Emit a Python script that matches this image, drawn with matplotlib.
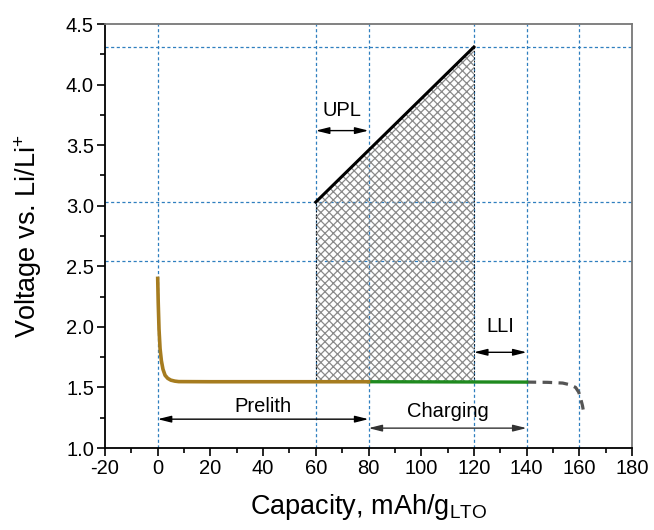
import matplotlib.pyplot as plt
import numpy as np

plt.rcParams['font.family'] = ['Liberation Sans', 'DejaVu Sans']
plt.rcParams['hatch.linewidth'] = 0.9
plt.rcParams['axes.unicode_minus'] = False
plt.rcParams['mathtext.fontset'] = 'custom'
plt.rcParams['mathtext.rm'] = 'Liberation Sans'
plt.rcParams['mathtext.it'] = 'Liberation Sans'

# prelithiation curve (0 - 80 mAh/g)
prelith_x = [0, 0.2, 0.5, 0.9, 1.4, 2.0, 2.8, 3.8, 5.0, 6.5, 8.0, 20, 40, 60, 80]
prelith_y = [2.40, 2.20, 1.98, 1.82, 1.72, 1.65, 1.60, 1.575, 1.56, 1.552, 1.548, 1.547, 1.547, 1.547, 1.547]

# charging curve (80 - 140 mAh/g)
charge_x = [80, 100, 120, 140]
charge_y = [1.547, 1.546, 1.545, 1.544]

# tail after charging (dashed)
tail_x = [140, 148, 153.7, 156.5, 158.6, 159.8, 160.5, 161.2, 161.7]
tail_y = [1.544, 1.542, 1.536, 1.522, 1.50, 1.46, 1.41, 1.35, 1.29]

# upper potential line
upl_x = [60, 120]
upl_y = [3.03, 4.31]
base_v = 1.547

# reference lines
vlines = [0, 60, 80, 120, 140, 160]
hlines = [2.54, 3.03, 4.31]

fig = plt.figure(figsize=(6.54, 5.30), dpi=100)
ax = fig.add_axes([105/654, 1 - 448/530, (632 - 105)/654, (448 - 24)/530])

grid_col = '#2f7fbf'
for xv in vlines:
  ax.axvline(xv, color=grid_col, lw=0.9, ls=(0, (2.5, 2)), zorder=1)
for yv in hlines:
  ax.axhline(yv, color=grid_col, lw=0.9, ls=(0, (2.5, 2)), zorder=1)

# hatched area under the UPL line
hx = np.array(upl_x)
ax.fill_between(hx, [base_v, base_v], upl_y, facecolor='none', edgecolor='#8a8a8a',
                hatch='xxxx', linewidth=0, zorder=2)
ax.plot([60, 60], [base_v, upl_y[0]], color='black', lw=0.6, ls=(0, (2, 2)), zorder=2)
ax.plot([120, 120], [base_v, upl_y[1]], color='black', lw=0.6, ls=(0, (2, 2)), zorder=2)

ax.plot(upl_x, upl_y, color='black', lw=2.2, zorder=4)
ax.plot(tail_x, tail_y, color='#555555', lw=2.3, ls=(0, (3, 2)), zorder=4)
ax.plot(charge_x, charge_y, color='#1f8a1f', lw=2.4, zorder=5)
ax.plot(prelith_x, prelith_y, color='#a67c1f', lw=2.6, zorder=6)

# arrows
def double_arrow(x0, x1, y, color='black'):
  ax.annotate('', xy=(x1, y), xytext=(x0, y),
              arrowprops=dict(arrowstyle='<|-|>,head_length=0.8,head_width=0.2',
                              color=color, lw=1.0, shrinkA=0, shrinkB=0), zorder=7)

double_arrow(0, 80, 1.238)
double_arrow(80, 140, 1.164, color='#333333')
double_arrow(120, 140, 1.79)
double_arrow(60, 80, 3.62)

fs = 14.5
ax.text(40, 1.34, 'Prelith', ha='center', va='center', fontsize=fs)
ax.text(110, 1.30, 'Charging', ha='center', va='center', fontsize=fs)
ax.text(130, 2.00, 'LLI', ha='center', va='center', fontsize=fs)
ax.text(70, 3.79, 'UPL', ha='center', va='center', fontsize=fs)

ax.set_xlim(-20, 180)
ax.set_ylim(1.0, 4.5)
ax.set_xticks(np.arange(-20, 181, 20))
ax.set_xticks(np.arange(-20, 181, 10), minor=True)
ax.set_yticks(np.arange(1.0, 4.51, 0.5))
ax.set_yticks(np.arange(1.0, 4.51, 0.25), minor=True)
ax.yaxis.set_major_formatter(plt.FormatStrFormatter('%.1f'))
ax.tick_params(which='major', direction='out', length=6, width=1.2, labelsize=14.5, pad=2)
ax.tick_params(which='minor', direction='out', length=3.5, width=1.2)

for side in ['left', 'bottom']:
  ax.spines[side].set_linewidth(1.3)
for side in ['top', 'right']:
  ax.spines[side].set_color('#777777')
  ax.spines[side].set_linewidth(1.3)

ax.set_xlabel('Capacity, mAh/g$_\\mathregular{LTO}$', fontsize=19.5, labelpad=10)
ax.set_ylabel('Voltage vs. Li/Li$^\\mathregular{+}$', fontsize=19.5, labelpad=16)

fig.savefig('out.png', dpi=100)
